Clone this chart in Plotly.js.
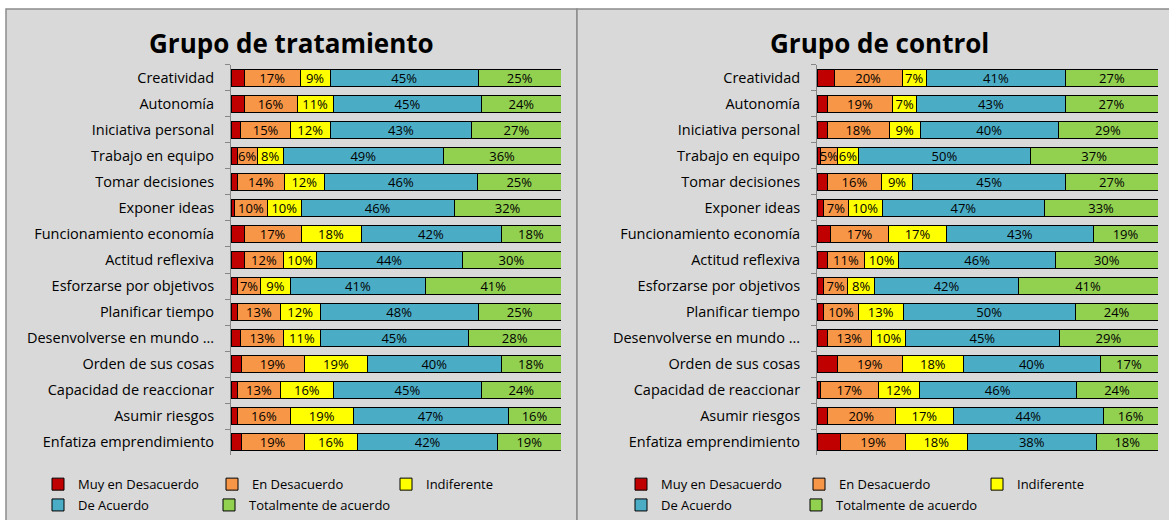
<!DOCTYPE html>
<html><head><meta charset="utf-8">
<script src="https://cdn.plot.ly/plotly-3.0.1.min.js"></script>
<style>html,body{margin:0;padding:0;background:#fff}#chart{width:1169px;height:520px}</style>
</head><body><div id="chart"></div>
<script>
const categories = ["Creatividad","Autonomía","Iniciativa personal","Trabajo en equipo","Tomar decisiones","Exponer ideas","Funcionamiento economía","Actitud reflexiva","Esforzarse por objetivos","Planificar tiempo","Desenvolverse en mundo ...","Orden de sus cosas","Capacidad de reaccionar","Asumir riesgos","Enfatiza emprendimiento"];
const seriesNames = ["Muy en Desacuerdo","En Desacuerdo","Indiferente","De Acuerdo","Totalmente de acuerdo"];
const seriesColors = ["#C00000","#F79646","#FFFF00","#4BACC6","#92D050"];

// Grupo de tratamiento
const tratMuyDes = [4,4,3,2,2,1,4,4,2,2,3,3,2,2,3];
const tratDes    = [17,16,15,6,14,10,17,12,7,13,13,19,13,16,19];
const tratInd    = [9,11,12,8,12,10,18,10,9,12,11,19,16,19,16];
const tratAc     = [45,45,43,49,46,46,42,44,41,48,45,40,45,47,42];
const tratTot    = [25,24,27,36,25,32,18,30,41,25,28,18,24,16,19];

// Grupo de control
const ctrlMuyDes = [5,3,3,1,3,2,4,3,2,2,3,6,1,3,7];
const ctrlDes    = [20,19,18,5,16,7,17,11,7,10,13,19,17,20,19];
const ctrlInd    = [7,7,9,6,9,10,17,10,8,13,10,18,12,17,18];
const ctrlAc     = [41,43,40,50,45,47,43,46,42,50,45,40,46,44,38];
const ctrlTot    = [27,27,29,37,27,33,19,30,41,24,29,17,24,16,18];

const FONT = "Open Sans, sans-serif";
const trat = [tratMuyDes,tratDes,tratInd,tratAc,tratTot];
const ctrl = [ctrlMuyDes,ctrlDes,ctrlInd,ctrlAc,ctrlTot];
const legLeft = ["legend","legend","legend","legend2","legend5"];
const legRight = ["legend3","legend3","legend3","legend4","legend6"];

const traces = [];
function addGroup(data, xa, ya, legs){
  data.forEach((vals,i)=>{
    traces.push({
      type:"bar", orientation:"h", x:vals, y:categories, name:seriesNames[i],
      xaxis:xa, yaxis:ya, legend:legs[i],
      marker:{color:seriesColors[i], line:{color:"#000", width:1}},
      text: i===0 ? vals.map(()=> "") : vals.map(v=>v+"%"),
      textposition:"inside", insidetextanchor:"middle", textangle:0,
      textfont:{family:FONT, size:13, color:"#000"},
      hoverinfo:"x+y+name"
    });
  });
}
addGroup(trat,"x","y",legLeft);
addGroup(ctrl,"x2","y2",legRight);

const W=1169,H=520;
const px = v=>v/W, py = v=>(H-v)/H;
const yDom=[py(458),py(65)];
const yaxisCommon = {
  type:"category", autorange:"reversed", domain:yDom,
  showline:true, linecolor:"#868686", linewidth:1,
  ticks:"outside", tickson:"boundaries", ticklen:5, tickcolor:"#868686",
  showgrid:false, zeroline:false,
  tickfont:{family:FONT, size:14.5, color:"#000"}, ticklabelstandoff:13
};
const xaxisCommon = {range:[0,100], showgrid:false, zeroline:false, showticklabels:false, showline:false, ticks:"", fixedrange:true};
const legCommon = {orientation:"h", bgcolor:"rgba(0,0,0,0)", font:{family:FONT,size:13,color:"#000"},
  entrywidthmode:"pixels", xanchor:"left", yanchor:"middle", itemwidth:30, traceorder:"normal", tracegroupgap:0};

const layout = {
  width:W, height:H, margin:{l:0,r:0,t:0,b:0},
  paper_bgcolor:"#fff", plot_bgcolor:"rgba(0,0,0,0)",
  barmode:"stack", barnorm:"percent", bargap:0.35,
  uniformtext:{mode:"show", minsize:12},
  showlegend:true,
  xaxis:Object.assign({}, xaxisCommon, {domain:[px(231),px(561)], anchor:"y"}),
  yaxis:Object.assign({}, yaxisCommon, {anchor:"x"}),
  xaxis2:Object.assign({}, xaxisCommon, {domain:[px(817),px(1158)], anchor:"y2"}),
  yaxis2:Object.assign({}, yaxisCommon, {anchor:"x2"}),
  legend:Object.assign({}, legCommon, {x:px(38), y:py(487), entrywidth:129}),
  legend2:Object.assign({}, legCommon, {x:px(38), y:py(508), entrywidth:129}),
  legend5:Object.assign({}, legCommon, {x:px(209), y:py(508)}),
  legend3:Object.assign({}, legCommon, {x:px(621), y:py(487), entrywidth:133}),
  legend4:Object.assign({}, legCommon, {x:px(621), y:py(508), entrywidth:133}),
  legend6:Object.assign({}, legCommon, {x:px(796), y:py(508)}),
  shapes:[
    {type:"rect", xref:"paper", yref:"paper", x0:px(6), x1:px(577), y0:-0.05, y1:py(9), fillcolor:"#D9D9D9", line:{color:"#8C8C8C", width:1.5}, layer:"below"},
    {type:"rect", xref:"paper", yref:"paper", x0:px(577), x1:1.05, y0:-0.05, y1:py(9), fillcolor:"#D9D9D9", line:{color:"#8C8C8C", width:1.5}, layer:"below"}
  ],
  annotations:[
    {text:"<b>Grupo de tratamiento</b>", xref:"paper", yref:"paper", x:px(291), y:py(43), showarrow:false, xanchor:"center", yanchor:"middle", font:{family:FONT, size:26, color:"#000"}},
    {text:"<b>Grupo de control</b>", xref:"paper", yref:"paper", x:px(879), y:py(43), showarrow:false, xanchor:"center", yanchor:"middle", font:{family:FONT, size:26, color:"#000"}}
  ]
};
Plotly.newPlot("chart", traces, layout, {displayModeBar:false, staticPlot:true});
</script></body></html>
